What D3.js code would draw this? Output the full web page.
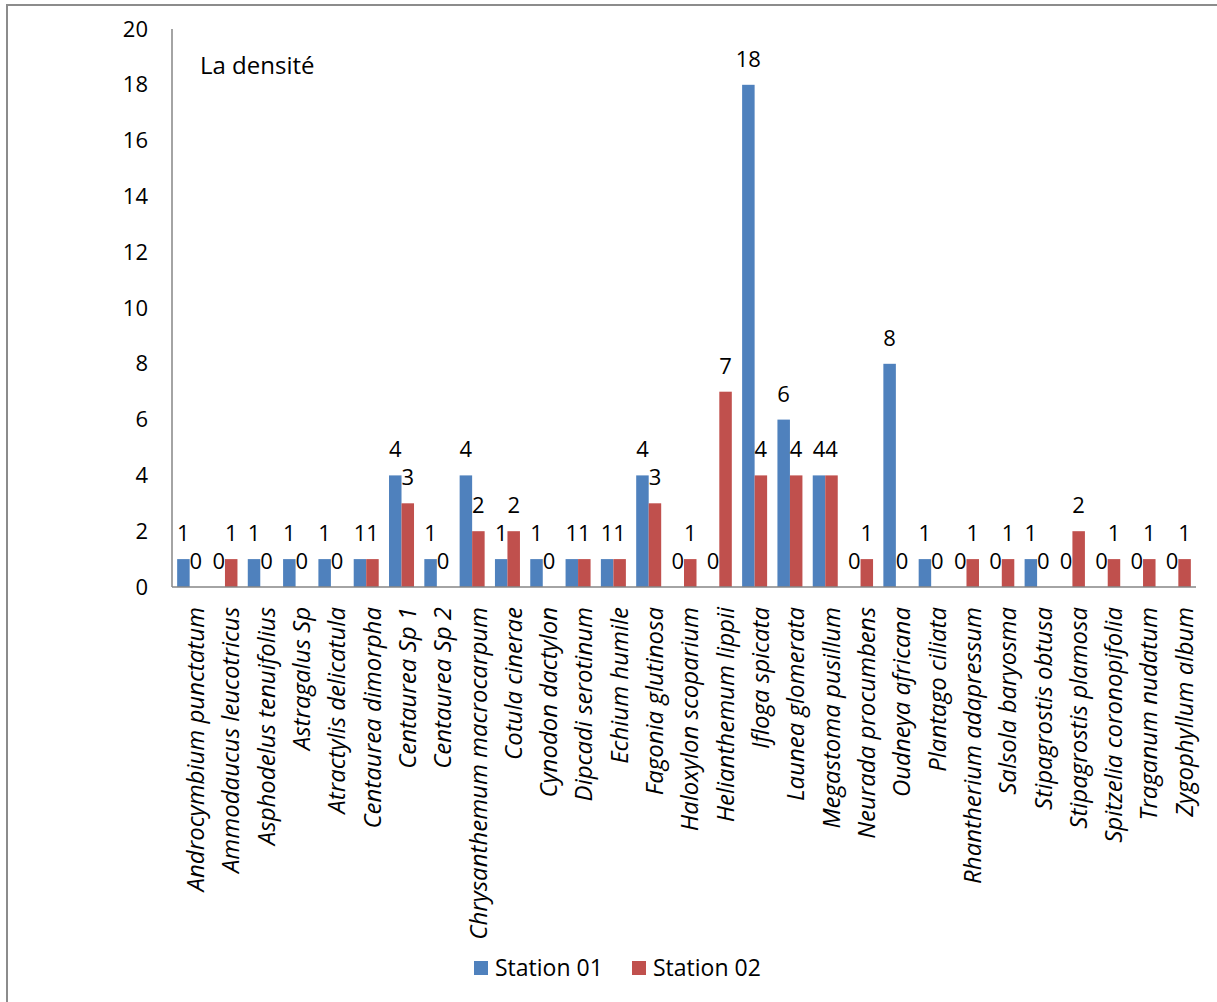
<!DOCTYPE html>
<html>
<head>
<meta charset="utf-8">
<script src="https://cdn.jsdelivr.net/npm/d3@7"></script>
<style>
  html, body { margin: 0; padding: 0; background: #fff; }
  svg { display: block; }
  text { font-family: "Open Sans", "Noto Sans", sans-serif; fill: #000; }
</style>
</head>
<body>
<svg id="chart" width="1217" height="1002"></svg>
<script>
// Species recorded at the two stations
const species = [
  "Androcymbium punctatum", "Ammodaucus leucotricus", "Asphodelus tenuifolius",
  "Astragalus Sp", "Atractylis delicatula", "Centaurea dimorpha",
  "Centaurea Sp 1", "Centaurea Sp 2", "Chrysanthemum macrocarpum",
  "Cotula cinerae", "Cynodon dactylon", "Dipcadi serotinum",
  "Echium humile", "Fagonia glutinosa", "Haloxylon scoparium",
  "Helianthemum lippii", "Ifloga spicata", "Launea glomerata",
  "Megastoma pusillum", "Neurada procumbens", "Oudneya africana",
  "Plantago ciliata", "Rhantherium adapressum", "Salsola baryosma",
  "Stipagrostis obtusa", "Stipagrostis plamosa", "Spitzelia coronopifolia",
  "Traganum nudatum", "Zygophyllum album"
];

// Density per species
const station01 = [1, 0, 1, 1, 1, 1, 4, 1, 4, 1, 1, 1, 1, 4, 0, 0, 18, 6, 4, 0, 8, 1, 0, 0, 1, 0, 0, 0, 0];
const station02 = [0, 1, 0, 0, 0, 1, 3, 0, 2, 2, 0, 1, 1, 3, 1, 7, 4, 4, 4, 1, 0, 0, 1, 1, 0, 2, 1, 1, 1];

const seriesNames = ["Station 01", "Station 02"];
const seriesColors = ["#4F81BD", "#C0504D"];
const yTicks = [0, 2, 4, 6, 8, 10, 12, 14, 16, 18, 20];

const svg = d3.select("#chart");

// Outer frame (top and left edges)
svg.append("line").attr("x1", 7).attr("x2", 1217).attr("y1", 5).attr("y2", 5)
  .attr("stroke", "#8c8c8c").attr("stroke-width", 2);
svg.append("line").attr("x1", 7).attr("x2", 7).attr("y1", 4).attr("y2", 1002)
  .attr("stroke", "#8c8c8c").attr("stroke-width", 2);

const plotLeft = 172, plotRight = 1196, plotTop = 29, plotBottom = 587;

const x = d3.scaleBand().domain(species).range([plotLeft, plotRight]).padding(0);
const bw = x.bandwidth();
const pad = bw * 0.146;
const xs = d3.scaleBand().domain(seriesNames).range([pad, bw - pad]).padding(0);
const y = d3.scaleLinear().domain([0, 20]).range([plotBottom, plotTop]);

const rows = species.map((s, i) => ({ name: s, values: [station01[i], station02[i]] }));

// Bars
const groups = svg.append("g").selectAll("g").data(rows).join("g")
  .attr("transform", d => `translate(${x(d.name)},0)`);

groups.selectAll("rect").data(d => d.values.map((v, k) => ({ v, k })))
  .join("rect")
  .attr("x", d => xs(seriesNames[d.k]))
  .attr("width", xs.bandwidth())
  .attr("y", d => y(d.v))
  .attr("height", d => y(0) - y(d.v))
  .attr("fill", d => seriesColors[d.k]);

// Value labels
groups.selectAll("text").data(d => d.values.map((v, k) => ({ v, k })))
  .join("text")
  .attr("x", d => xs(seriesNames[d.k]) + xs.bandwidth() / 2)
  .attr("y", d => y(d.v) - 18)
  .attr("text-anchor", "middle")
  .attr("font-size", 22)
  .text(d => d.v);

// Axes
const axisColor = "#868686";
svg.append("line").attr("x1", plotLeft).attr("x2", plotLeft).attr("y1", plotTop).attr("y2", plotBottom)
  .attr("stroke", axisColor).attr("stroke-width", 1.5);
svg.append("line").attr("x1", plotLeft).attr("x2", plotRight).attr("y1", plotBottom).attr("y2", plotBottom)
  .attr("stroke", axisColor).attr("stroke-width", 1.5);

const yAxis = d3.axisLeft(y).tickValues(yTicks).tickSize(0).tickPadding(24);
const gy = svg.append("g").attr("transform", `translate(${plotLeft},0)`).call(yAxis);
gy.select(".domain").remove();
gy.selectAll("text").attr("font-size", 22).attr("font-family", "Open Sans").attr("fill", "#000");

// Category labels, rotated
const xAxis = d3.axisBottom(x).tickSize(0).tickPadding(0);
const gx = svg.append("g").attr("transform", `translate(0,${plotBottom})`).call(xAxis);
gx.select(".domain").remove();
gx.selectAll("text")
  .attr("font-size", 24)
  .attr("font-family", "Open Sans")
  .attr("font-style", "italic")
  .attr("fill", "#000")
  .attr("text-anchor", "end")
  .attr("transform", "rotate(-90)")
  .attr("x", -20)
  .attr("y", 3)
  .attr("dy", "0.35em");
gx.selectAll(".tick").attr("transform", d => `translate(${x(d) + bw / 2 + 3},0)`);

// Title
svg.append("text").attr("x", 200).attr("y", 74).attr("font-size", 24).text("La densité");

// Legend
const legend = svg.append("g");
const legendX = [474, 632];
seriesNames.forEach((n, k) => {
  legend.append("rect").attr("x", legendX[k]).attr("y", 961).attr("width", 14).attr("height", 14)
    .attr("fill", seriesColors[k]);
  legend.append("text").attr("x", legendX[k] + 21).attr("y", 976).attr("font-size", 23).text(n);
});
</script>
</body>
</html>
